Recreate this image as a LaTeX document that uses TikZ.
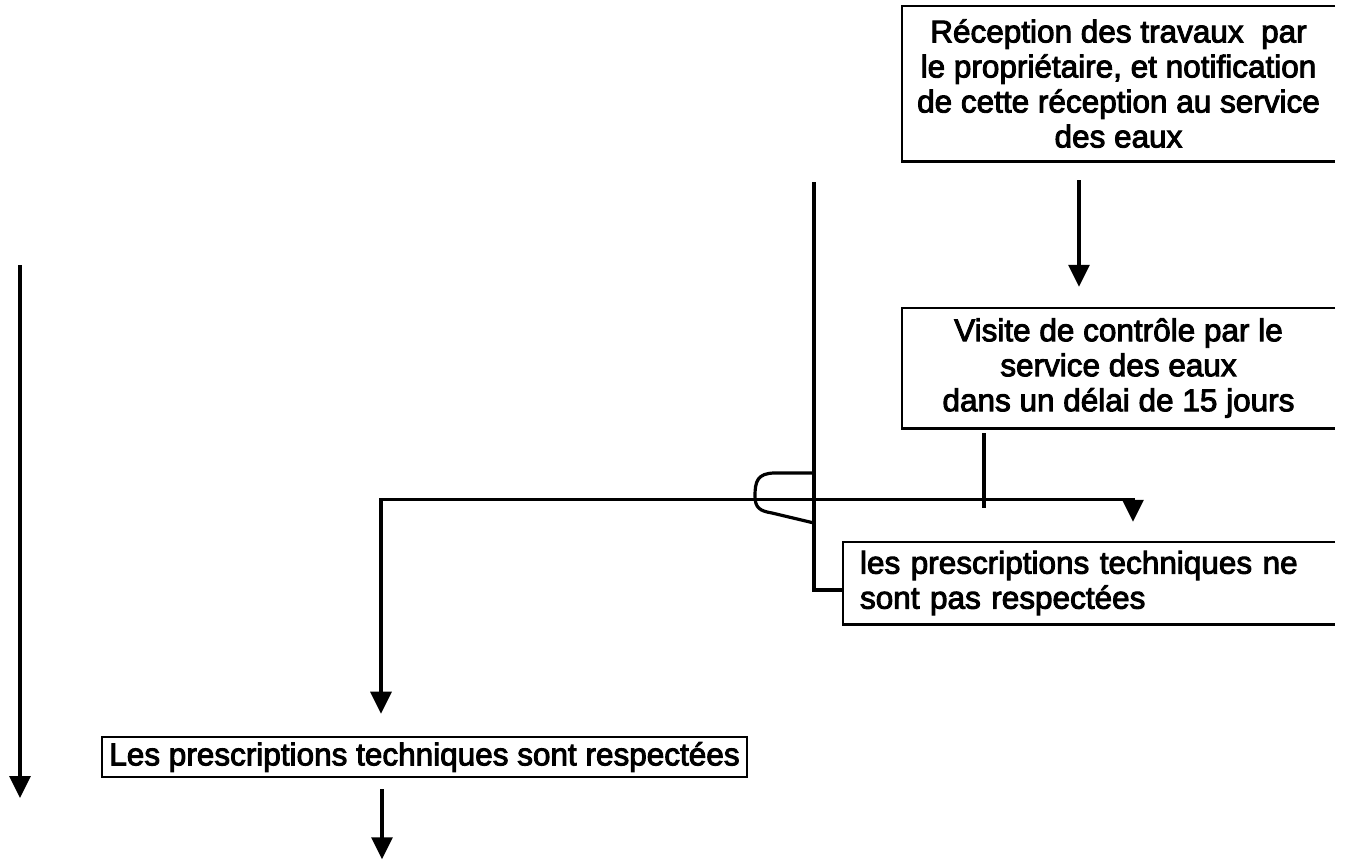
\documentclass[tikz,border=0pt]{standalone}
\usepackage{fontspec}
\setmainfont{Liberation Sans}[FakeBold=3]
\usetikzlibrary{arrows.meta,calc}
\begin{document}
\begin{tikzpicture}[x=1pt,y=-1pt,
  txt/.style={font=\fontsize{31.5}{35}\selectfont, inner sep=0pt},
  boxline/.style={line width=2.6pt},
  conn/.style={line width=3.2pt},
  arr/.style={conn,-{Triangle[width=21pt,length=22pt]}}]
\useasboundingbox (0,0) rectangle (1352,860);

% boxes
\node[txt, minimum width=433pt, minimum height=155pt, align=center] (rec) at (1118.5,83.5)
  {Réception des travaux\ \ par\\le propriétaire, et notification\\de cette réception au service\\des eaux};
\node[txt, minimum width=433pt, minimum height=120pt, align=center] (vis) at (1118.5,368)
  {Visite de contrôle par le\\service des eaux\\dans un délai de 15 jours};
\node[txt, text width=458pt, inner xsep=17pt, minimum height=82pt, align=left] (nr) at (1089,583)
  {les prescriptions techniques ne\\sont pas respectées};
\node[txt, draw, boxline, minimum width=645pt, minimum height=40pt] (yes) at (424.5,757)
  {Les prescriptions techniques sont respectées};

\draw[boxline] (rec.north east) -- (rec.north west) -- (rec.south west) -- (rec.south east);
\draw[boxline] (vis.north east) -- (vis.north west) -- (vis.south west) -- (vis.south east);
\draw[boxline] (nr.north east) -- (nr.north west) -- (nr.south west) -- (nr.south east);

% coordinates
\coordinate (J) at ($(vis.south)+(-134.5,71)$);
\coordinate (V) at (814,182);
\coordinate (C) at (814,590);
\coordinate (L1) at (20,265);
\coordinate (L2) at (20,798);

% connectors
\draw[arr] ($(rec.south)+(-39.5,19)$) -- ($(vis.north)+(-39.5,-21)$);
\draw[conn] ($(vis.south)+(-134.5,5)$) -- ($(vis.south)+(-134.5,80)$);
\draw[arr] (J) -| ($(yes.north)+(-43.5,-22)$);
\draw[arr] (J) -| ($(nr.north)+(44,-20)$);
\draw[conn] (V) -- (C) -- (C -| nr.west);
\draw[conn, line join=round] (814,473) -- (775,473) .. controls (757,473) and (755,482) .. (755,496)
  .. controls (755,508) and (760,511) .. (772,513) -- (814,523);
\draw[arr] ($(yes.south)+(-42.5,11)$) -- ($(yes.south)+(-42.5,81)$);
\draw[arr] (L1) -- (L2);
\end{tikzpicture}
\end{document}
